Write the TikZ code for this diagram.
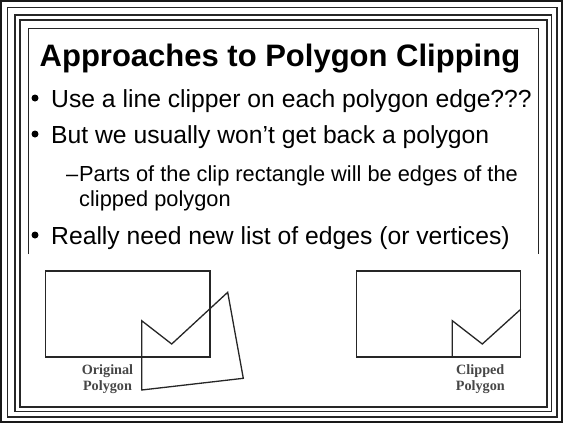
\documentclass[tikz,border=0pt]{standalone}
\usepackage{fontspec}
\newfontfamily\arialfont{Liberation Sans}
\newfontfamily\tnrfont{Liberation Serif}
\begin{document}
\begin{tikzpicture}[x=1pt,y=-1pt,
  outerframe/.style={draw=black!90, line width=1.9pt},
  frameline/.style={draw=black!85, line width=1.5pt},
  boxline/.style={draw=black!85, line width=1.3pt},
  titletxt/.style={anchor=base west, inner sep=0pt, font=\arialfont\bfseries\fontsize{31}{36}\selectfont},
  bultxt/.style={anchor=base west, inner sep=0pt, font=\arialfont\fontsize{24.7}{29}\selectfont},
  subtxt/.style={anchor=base west, inner sep=0pt, font=\arialfont\fontsize{21.8}{26}\selectfont},
  bdot/.style={circle, fill=black, inner sep=0pt, minimum size=7pt},
  figline/.style={draw=black!85, line width=1.3pt},
  figlabel/.style={anchor=base, inner sep=0pt, text=black!72, font=\tnrfont\bfseries\fontsize{14.2}{16}\selectfont}
]
\useasboundingbox (0,0) rectangle (564,424);
\fill[white] (0,0) rectangle (564,424);
% frames
\draw[outerframe] (0.9,0.9) rectangle (562.2,422.3);
\draw[frameline] (7.5,7.5) rectangle (557.2,417.2);
\draw[frameline] (15.2,15.2) rectangle (551.7,411.7);
\draw[frameline] (20.2,20.2) rectangle (547,406.8);
\draw[boxline] (28.7,254) -- (28.7,28.7) -- (538.5,28.7) -- (538.5,254);
% title
\node[titletxt] (title) at (39.5,66) {Approaches to Polygon Clipping};
% bullets
\node[bdot] (d1) at (35,98) {};
\node[bultxt] (b1) at (51,107.5) {Use a line clipper on each polygon edge???};
\node[bdot] (d2) at (35,134) {};
\node[bultxt] (b2) at (51,143.5) {But we usually won’t get back a polygon};
\node[subtxt] (s0) at (66,181.5) {–};
\node[subtxt] (s1) at (79,181.5) {Parts of the clip rectangle will be edges of the};
\node[subtxt] (s2) at (79,206) {clipped polygon};
\node[bdot] (d3) at (35,235) {};
\node[bultxt] (b3) at (51,244.5) {Really need new list of edges (or vertices)};
% left figure
\draw[figline] (45.7,271) rectangle (210,357);
\coordinate (p1) at (141.7,320.7);
\coordinate (p2) at (171.7,344);
\coordinate (p3) at (227.7,292.3);
\coordinate (p4) at (243.3,378.3);
\coordinate (p5) at (141.7,390);
\draw[figline, line join=miter] (p1) -- (p2) -- (p3) -- (p4) -- (p5) -- cycle;
\node[figlabel] (l1) at (107.5,374) {Original};
\node[figlabel] (l2) at (107.5,390) {Polygon};
% right figure
\draw[figline] (356.7,271) rectangle (520.7,357);
\coordinate (q0) at (452.3,357);
\coordinate (q1) at (452.3,320.7);
\coordinate (q2) at (482.3,344);
\coordinate (q3) at (520.7,309.3);
\draw[figline, line join=miter] (q0) -- (q1) -- (q2) -- (q3);
\node[figlabel] (r1) at (480.3,374) {Clipped};
\node[figlabel] (r2) at (480.3,390) {Polygon};
\end{tikzpicture}
\end{document}
